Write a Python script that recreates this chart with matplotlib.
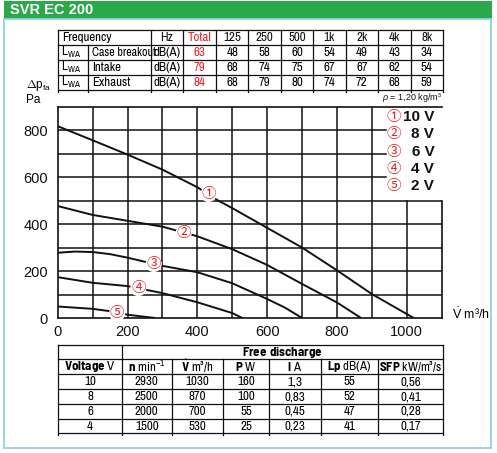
import matplotlib
matplotlib.use("Agg")
import matplotlib.pyplot as plt
from matplotlib import font_manager
from matplotlib.patches import Rectangle

# ---- data ----
title = "SVR EC 200"

freq_cols = ["Hz", "Total", "125", "250", "500", "1k", "2k", "4k", "8k"]
lwa_rows = ["Case breakout", "Intake", "Exhaust"]
lwa_total = [63, 79, 84]
lwa_case = [48, 58, 60, 54, 49, 43, 34]
lwa_intake = [68, 74, 75, 67, 67, 62, 54]
lwa_exhaust = [68, 79, 80, 74, 72, 68, 59]

volt_labels = ["10 V", "8 V", "6 V", "4 V", "2 V"]
circ = ["\u2460", "\u2461", "\u2462", "\u2463", "\u2464"]

q1 = [0, 100, 200, 300, 400, 460, 500, 600, 700, 800, 900, 1020]
p1 = [817, 757, 696, 632, 557, 500, 468, 384, 300, 203, 102, 0]
q2 = [0, 100, 200, 300, 400, 500, 600, 700, 800, 869]
p2 = [477, 439, 414, 389, 348, 293, 226, 145, 66, 0]
q3 = [0, 50, 100, 150, 200, 300, 400, 500, 600, 650, 700]
p3 = [278, 283, 281, 272, 257, 222, 195, 148, 81, 45, 0]
q4 = [0, 100, 200, 300, 400, 500, 529]
p4 = [174, 150, 136, 106, 67, 21, 0]
q5 = [0, 100, 150, 200, 250, 280]
p5 = [49, 39, 29, 14, 5, 0]
curves = [(q1, p1), (q2, p2), (q3, p3), (q4, p4), (q5, p5)]
label_pos = [(432, 528), (361, 363), (275, 230), (231, 127), (170, 20)]

fd_cols = ["$\\mathbf{Voltage}$ V", "$\\mathbf{n}$ min$^{-1}$", "$\\mathbf{\\dot{V}}$ m³/h",
           "$\\mathbf{P}$ W", "$\\mathbf{I}$ A", "$\\mathbf{Lp}$ dB(A)", "$\\mathbf{SFP}$ kW/m³/s"]
fd_voltage = ["10", "8", "6", "4"]
fd_speed = ["2930", "2500", "2000", "1500"]
fd_flow = ["1030", "870", "700", "530"]
fd_power = ["160", "100", "55", "25"]
fd_current = ["1,3", "0,83", "0,45", "0,23"]
fd_lp = ["55", "52", "47", "41"]
fd_sfp = ["0,56", "0,41", "0,28", "0,17"]

# ---- fonts ----
fonts = font_manager.fontManager.ttflist


def pick(cands, bold=False):
    for c in cands:
        for f in fonts:
            if f.name == c and (not bold or (isinstance(f.weight, int) and f.weight >= 600)
                                or f.weight == "bold"):
                return c
    return "Liberation Sans"


narrow = pick(["Liberation Sans Narrow", "Archivo Narrow", "Barlow Semi Condensed"])
narrow_bold = pick(["Liberation Sans Narrow", "Archivo Narrow", "Barlow Semi Condensed",
                    "Asap Condensed"], bold=True)
plt.rcParams["font.family"] = ["Liberation Sans", "DejaVu Sans"]
plt.rcParams["mathtext.fontset"] = "custom"
plt.rcParams["mathtext.rm"] = narrow
plt.rcParams["mathtext.it"] = "Liberation Sans:italic"
plt.rcParams["mathtext.bf"] = narrow_bold + ":bold"

GREEN = "#2ba84a"
BLUE = "#8fd3e3"
RED = "#e3242b"
INK = "#111111"

fig = plt.figure(figsize=(4.97, 4.53), dpi=100)
bg = fig.add_axes([0, 0, 1, 1])
bg.set_xlim(0, 497)
bg.set_ylim(453, 0)
bg.axis("off")

# frame + header
bg.add_patch(Rectangle((4, 0.7), 487.5, 18.5, color=GREEN, lw=0))
bg.add_patch(Rectangle((4.3, 19), 487, 429.3, fill=False, ec=BLUE, lw=1.3))
bg.text(10, 10.5, title, color="white", fontsize=10.5, fontweight="bold",
        family=["Liberation Sans"], va="center", ha="left")

# ---- top table ----
tc = [58.3, 88.3, 151, 182.7, 216, 248.3, 281, 313.3, 345.7, 378.3, 410.7, 442.7]
tr = [30, 45, 60, 75, 90]
lw_t = 0.9
for y in tr:
    bg.plot([tc[0], tc[-1]], [y, y], color=INK, lw=lw_t)
for i, x in enumerate(tc):
    y0 = tr[1] if i == 1 else tr[0]
    bg.plot([x, x], [y0, tr[-1] + 2], color=INK, lw=lw_t)
fs_t = 9.3
bg.text(62, 37.5, "Frequency", fontsize=fs_t, family=narrow, va="center")
for j, c in enumerate(freq_cols):
    xc = (tc[j + 2] + tc[j + 3]) / 2
    bg.text(xc, 37.5, c, fontsize=fs_t, family=narrow, ha="center", va="center",
            color=RED if c == "Total" else INK)
rows_vals = [lwa_case, lwa_intake, lwa_exhaust]
for i, name in enumerate(lwa_rows):
    yc = (tr[i + 1] + tr[i + 2]) / 2
    bg.text(61, yc, "L$_\\mathregular{WA}$", fontsize=fs_t, family=narrow, va="center")
    bg.text(92, yc, name, fontsize=8.6 if len(name) > 10 else fs_t, family=narrow, va="center")
    bg.text((tc[2] + tc[3]) / 2, yc, "dB(A)", fontsize=fs_t, family=narrow, ha="center", va="center")
    bg.text((tc[3] + tc[4]) / 2, yc, str(lwa_total[i]), fontsize=fs_t, family=narrow,
            ha="center", va="center", color=RED)
    for j, v in enumerate(rows_vals[i]):
        bg.text((tc[j + 4] + tc[j + 5]) / 2, yc, str(v), fontsize=fs_t, family=narrow,
                ha="center", va="center")

# ---- bottom table ----
bc = [58.3, 121.7, 171.7, 223.3, 269.3, 320.7, 378.3, 442.7]
br = [345, 359.3, 374.3, 389.3, 404, 419, 433.3]
for y in br:
    bg.plot([bc[0], bc[-1]], [y, y], color=INK, lw=lw_t)
for i, x in enumerate(bc):
    y0 = br[0] if i in (0, 1, len(bc) - 1) else br[1]
    bg.plot([x, x], [y0, br[-1] + 1.5], color=INK, lw=lw_t)
bg.text((bc[1] + bc[-1]) / 2, (br[0] + br[1]) / 2, "$\\mathbf{Free\\ discharge}$", fontsize=fs_t,
        family=narrow, ha="center", va="center")
for j, c in enumerate(fd_cols):
    bg.text((bc[j] + bc[j + 1]) / 2, (br[1] + br[2]) / 2, c, fontsize=fs_t, family=narrow,
            ha="center", va="center")
fd_data = [fd_voltage, fd_speed, fd_flow, fd_power, fd_current, fd_lp, fd_sfp]
for j, col in enumerate(fd_data):
    for i, v in enumerate(col):
        bg.text((bc[j] + bc[j + 1]) / 2, (br[i + 2] + br[i + 3]) / 2, v, fontsize=fs_t,
                family=narrow, ha="center", va="center")

# ---- chart ----
W, H = 497, 453
ax = fig.add_axes([57.7 / W, 1 - 318 / H, 384 / W, 211.3 / H])
ax.set_xlim(0, 1100)
ax.set_ylim(0, 900)
ax.set_xticks(range(0, 1001, 200))
ax.set_yticks(range(0, 801, 200))
ax.tick_params(length=0, labelsize=10.5, colors=INK)
ax.tick_params(axis="y", pad=7)
ax.tick_params(axis="x", pad=5)
for s in ax.spines.values():
    s.set_color(INK)
    s.set_linewidth(1.2)
ax.spines["right"].set_bounds(0, 500)

# grid (legend corner left free)
for y in range(100, 900, 100):
    xe = 940 if y >= 600 else 1100
    ax.plot([0, xe], [y, y], color=INK, lw=1.1, zorder=1)
for x in range(100, 1100, 100):
    ye = 500 if x == 1000 else 900
    ax.plot([x, x], [0, ye], color=INK, lw=1.1, zorder=1)

for (q, p) in curves:
    ax.plot(q, p, color=INK, lw=1.4, zorder=3, solid_capstyle="butt")
for k, (lx, ly) in enumerate(label_pos):
    ax.text(lx, ly, circ[k], color=RED, fontsize=10.5, family=["Noto Sans CJK JP"],
            ha="center", va="center", zorder=4,
            bbox=dict(boxstyle="circle,pad=0.05", fc="white", ec="none"))

# legend
leg_y = [856, 782, 708, 633, 562]
for k, ly in enumerate(leg_y):
    ax.text(962, ly, circ[k], color=RED, fontsize=10.5, family=["Noto Sans CJK JP"],
            ha="center", va="center", zorder=4)
    ax.text(1079, ly, volt_labels[k], color=INK, fontsize=11, fontweight="bold",
            ha="right", va="center", zorder=4)

ax.text(1100, 910, "$\\rho$ = 1,20 kg/m³", fontsize=6.5, ha="right", va="bottom", color=INK)
ax.text(-90, 992, "$\\Delta\\mathregular{p}_\\mathregular{fa}$", fontsize=8.5, ha="left", va="center")
ax.text(-90, 928, "Pa", fontsize=8.5, ha="left", va="center")
ax.text(1130, 15, "$\\mathregular{\\dot{V}}$ m³/h", fontsize=9, ha="left", va="center")

fig.savefig("out.png", dpi=100)
